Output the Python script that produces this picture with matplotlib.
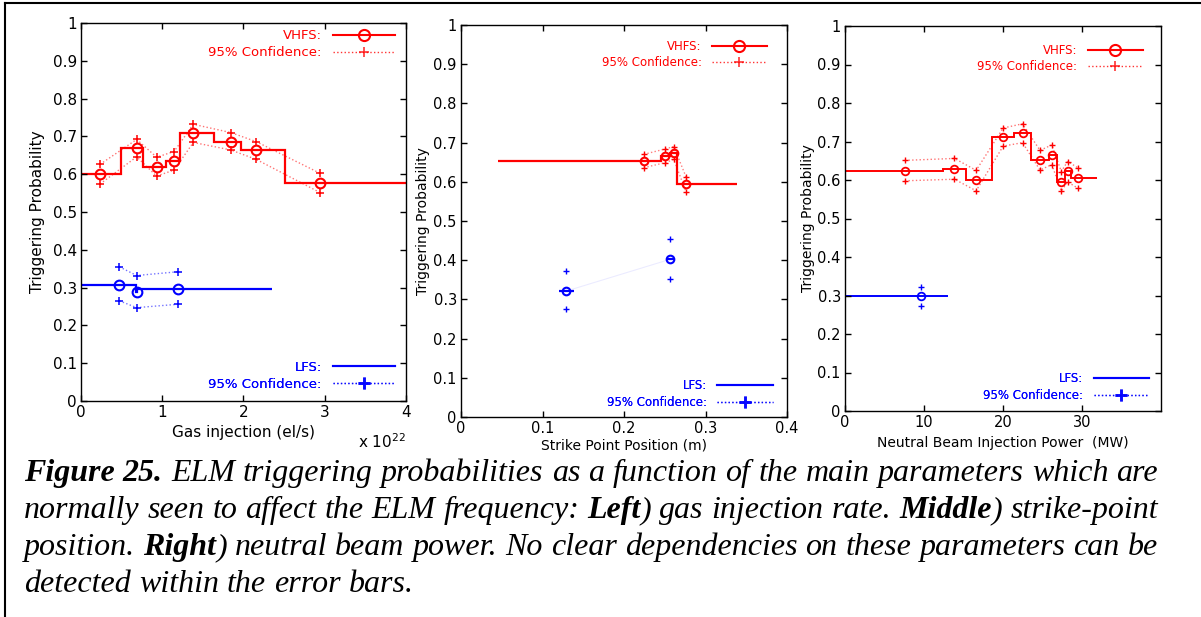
import matplotlib
matplotlib.use('Agg')
import matplotlib.pyplot as plt
from matplotlib.lines import Line2D

# ---------------- data ----------------
# Left panel: gas injection (x in units of 1e22 el/s)
gas_vhfs_x = [0.234, 0.685, 0.931, 1.145, 1.383, 1.846, 2.158, 2.946]
gas_vhfs_p = [0.600, 0.668, 0.620, 0.635, 0.710, 0.686, 0.664, 0.576]
gas_vhfs_hi = [0.626, 0.692, 0.645, 0.660, 0.732, 0.710, 0.686, 0.602]
gas_vhfs_lo = [0.574, 0.646, 0.595, 0.611, 0.684, 0.664, 0.639, 0.551]
gas_vhfs_edges = [0.0, 0.49, 0.76, 1.05, 1.22, 1.64, 1.97, 2.51, 4.0]

gas_lfs_x = [0.472, 0.685, 1.198]
gas_lfs_p = [0.307, 0.289, 0.297]
gas_lfs_hi = [0.355, 0.332, 0.342]
gas_lfs_lo = [0.265, 0.247, 0.256]
gas_lfs_edges = [0.0, 0.68, 0.69, 2.35]

# Middle panel: strike point position (m)
sp_vhfs_x = [0.2243, 0.2509, 0.2611, 0.2762]
sp_vhfs_p = [0.652, 0.666, 0.673, 0.594]
sp_vhfs_hi = [0.670, 0.684, 0.690, 0.612]
sp_vhfs_lo = [0.636, 0.649, 0.657, 0.574]
sp_vhfs_edges = [0.045, 0.245, 0.256, 0.2656, 0.339]

sp_lfs_x = [0.1287, 0.2562]
sp_lfs_p = [0.321, 0.402]
sp_lfs_hi = [0.372, 0.454]
sp_lfs_lo = [0.276, 0.353]
sp_lfs_left = [0.1206, 0.2515]
sp_lfs_right = [0.1387, 0.2613]

# Right panel: neutral beam injection power (MW)
nbi_vhfs_x = [7.57, 13.86, 16.60, 20.02, 22.47, 24.68, 26.18, 27.38, 28.17, 29.55]
nbi_vhfs_p = [0.624, 0.629, 0.599, 0.712, 0.722, 0.652, 0.666, 0.596, 0.623, 0.605]
nbi_vhfs_hi = [0.651, 0.656, 0.625, 0.735, 0.746, 0.677, 0.691, 0.622, 0.648, 0.631]
nbi_vhfs_lo = [0.598, 0.602, 0.572, 0.688, 0.697, 0.626, 0.640, 0.571, 0.595, 0.578]
nbi_vhfs_edges = [0.0, 12.44, 15.31, 18.56, 21.35, 23.55, 25.84, 26.84, 27.84, 28.63, 31.88]

nbi_lfs_x = [9.57]
nbi_lfs_p = [0.298]
nbi_lfs_hi = [0.323]
nbi_lfs_lo = [0.272]
nbi_lfs_edges = [0.0, 12.98]

y_ticks = [0, 0.1, 0.2, 0.3, 0.4, 0.5, 0.6, 0.7, 0.8, 0.9, 1.0]
y_ticklabels = ['0', '0.1', '0.2', '0.3', '0.4', '0.5', '0.6', '0.7', '0.8', '0.9', '1']
gas_ticks = [0, 1, 2, 3, 4]
sp_ticks = [0, 0.1, 0.2, 0.3, 0.4]
sp_ticklabels = ['0', '0.1', '0.2', '0.3', '0.4']
nbi_ticks = [0, 10, 20, 30]

caption_lines = [
    [("Figure 25.", 'b'), (" ELM triggering probabilities as a function of the main parameters which are", 'i')],
    [("normally seen to affect the ELM frequency: ", 'i'), ("Left", 'b'), (") gas injection rate. ", 'i'),
     ("Middle", 'b'), (") strike-point", 'i')],
    [("position. ", 'i'), ("Right", 'b'), (") neutral beam power. No clear dependencies on these parameters can be", 'i')],
    [("detected within the error bars.", 'i')],
]

# ---------------- figure ----------------
W, H = 1201, 617
fig = plt.figure(figsize=(W / 100, H / 100), dpi=100)
plt.rcParams['font.family'] = ['DejaVu Sans']


def ax_rect(x0, y0, x1, y1):
    return [x0 / W, 1 - y1 / H, (x1 - x0) / W, (y1 - y0) / H]


axL = fig.add_axes(ax_rect(81, 23, 406, 401))
axM = fig.add_axes(ax_rect(461, 25, 787, 417))
axR = fig.add_axes(ax_rect(845, 26, 1161, 411))


def style_axes(ax, fs):
    ax.set_ylim(0, 1)
    ax.set_yticks(y_ticks)
    ax.set_yticklabels(y_ticklabels)
    ax.tick_params(direction='in', top=True, right=True, length=4, width=1,
                   labelsize=fs, pad=3, colors='black')
    for s in ax.spines.values():
        s.set_linewidth(1.0)
        s.set_color('black')


def add_legends(ax, fs, vh_anchor, lf_anchor, hl=4.7):
    h1 = Line2D([], [], color='red', lw=1.5, marker='o', mfc='none', mec='red', ms=8, mew=1.5)
    h2 = Line2D([], [], color='red', lw=1, ls=':', marker='+', ms=7, mew=1.2, alpha=0.8)
    leg1 = ax.legend([h1, h2], ['VHFS:', '95% Confidence:'], loc='upper right',
                     bbox_to_anchor=vh_anchor, frameon=False, markerfirst=False,
                     numpoints=1, fontsize=fs, handlelength=hl, handletextpad=0.85,
                     labelspacing=0.3, borderpad=0, borderaxespad=0, labelcolor='red')
    ax.add_artist(leg1)
    h3 = Line2D([], [], color='blue', lw=1.5)
    h4 = Line2D([], [], color='blue', lw=1, ls=':', marker='+', ms=9, mew=2, alpha=0.8)
    leg2 = ax.legend([h3, h4], ['LFS:', '95% Confidence:'], loc='lower right',
                     bbox_to_anchor=lf_anchor, frameon=False, markerfirst=False,
                     numpoints=1, fontsize=fs, handlelength=hl, handletextpad=0.85,
                     labelspacing=0.3, borderpad=0, borderaxespad=0, labelcolor='blue')
    ax.add_artist(leg2)


# ---- Left panel ----
ax = axL
ax.stairs(gas_vhfs_p, gas_vhfs_edges, color='red', lw=1.6, baseline=None)
ax.plot(gas_vhfs_x, gas_vhfs_p, ls='none', marker='o', mfc='none', mec='red', ms=7, mew=1.5)
ax.plot(gas_vhfs_x, gas_vhfs_hi, ls=':', lw=1, color='red', alpha=0.55)
ax.plot(gas_vhfs_x, gas_vhfs_lo, ls=':', lw=1, color='red', alpha=0.55)
ax.plot(gas_vhfs_x, gas_vhfs_hi, ls='none', marker='+', ms=6, mew=1.1, color='red')
ax.plot(gas_vhfs_x, gas_vhfs_lo, ls='none', marker='+', ms=6, mew=1.1, color='red')
ax.stairs(gas_lfs_p, gas_lfs_edges, color='blue', lw=1.6, baseline=None)
ax.plot(gas_lfs_x, gas_lfs_p, ls='none', marker='o', mfc='none', mec='blue', ms=7, mew=1.5)
ax.plot(gas_lfs_x, gas_lfs_hi, ls=':', lw=1, color='blue', alpha=0.55)
ax.plot(gas_lfs_x, gas_lfs_lo, ls=':', lw=1, color='blue', alpha=0.55)
ax.plot(gas_lfs_x, gas_lfs_hi, ls='none', marker='+', ms=6, mew=1.1, color='blue')
ax.plot(gas_lfs_x, gas_lfs_lo, ls='none', marker='+', ms=6, mew=1.1, color='blue')
ax.set_xlim(0, 4)
ax.set_xticks(gas_ticks)
style_axes(ax, 11)
ax.set_xlabel('Gas injection (el/s)', fontsize=11)
ax.xaxis.set_label_coords(0.5, -0.0635)
ax.set_ylabel('Triggering Probability', fontsize=11)
ax.yaxis.set_label_coords(-0.111, 0.5)
ax.text(1.0, -0.124, r'x 10$^{22}$', transform=ax.transAxes, ha='right', va='baseline', fontsize=11)
add_legends(ax, 9.5, (0.966, 0.983), (0.966, 0.027))

# ---- Middle panel ----
ax = axM
ax.stairs(sp_vhfs_p, sp_vhfs_edges, color='red', lw=1.6, baseline=None)
ax.plot(sp_vhfs_x, sp_vhfs_p, ls='none', marker='o', mfc='none', mec='red', ms=5.5, mew=1.5)
ax.plot(sp_vhfs_x, sp_vhfs_hi, ls=':', lw=1, color='red', alpha=0.5)
ax.plot(sp_vhfs_x, sp_vhfs_lo, ls=':', lw=1, color='red', alpha=0.5)
ax.plot(sp_vhfs_x, sp_vhfs_hi, ls='none', marker='+', ms=5, mew=1, color='red')
ax.plot(sp_vhfs_x, sp_vhfs_lo, ls='none', marker='+', ms=5, mew=1, color='red')
ax.plot(sp_lfs_x, sp_lfs_p, ls='-', lw=0.8, color='blue', alpha=0.08)
ax.hlines(sp_lfs_p, sp_lfs_left, sp_lfs_right, colors='blue', lw=1.6)
ax.plot(sp_lfs_x, sp_lfs_p, ls='none', marker='o', mfc='none', mec='blue', ms=5.5, mew=1.5)
ax.plot(sp_lfs_x, sp_lfs_hi, ls='none', marker='+', ms=5, mew=1, color='blue')
ax.plot(sp_lfs_x, sp_lfs_lo, ls='none', marker='+', ms=5, mew=1, color='blue')
ax.set_xlim(0, 0.4)
ax.set_xticks(sp_ticks)
ax.set_xticklabels(sp_ticklabels)
style_axes(ax, 10.5)
ax.set_xlabel('Strike Point Position (m)', fontsize=10)
ax.xaxis.set_label_coords(0.5, -0.0536)
ax.set_ylabel('Triggering Probability', fontsize=10)
ax.yaxis.set_label_coords(-0.095, 0.5)
add_legends(ax, 8.5, (0.939, 0.962), (0.957, 0.021))

# ---- Right panel ----
ax = axR
ax.stairs(nbi_vhfs_p, nbi_vhfs_edges, color='red', lw=1.4, baseline=None)
ax.plot(nbi_vhfs_x, nbi_vhfs_p, ls='none', marker='o', mfc='none', mec='red', ms=5.5, mew=1.3)
ax.plot(nbi_vhfs_x, nbi_vhfs_hi, ls=':', lw=1, color='red', alpha=0.55)
ax.plot(nbi_vhfs_x, nbi_vhfs_lo, ls=':', lw=1, color='red', alpha=0.55)
ax.plot(nbi_vhfs_x, nbi_vhfs_hi, ls='none', marker='+', ms=5, mew=1, color='red')
ax.plot(nbi_vhfs_x, nbi_vhfs_lo, ls='none', marker='+', ms=5, mew=1, color='red')
ax.stairs(nbi_lfs_p, nbi_lfs_edges, color='blue', lw=1.4, baseline=None)
ax.plot(nbi_lfs_x, nbi_lfs_p, ls='none', marker='o', mfc='none', mec='blue', ms=5.5, mew=1.3)
ax.plot(nbi_lfs_x, nbi_lfs_hi, ls='none', marker='+', ms=5, mew=1, color='blue')
ax.plot(nbi_lfs_x, nbi_lfs_lo, ls='none', marker='+', ms=5, mew=1, color='blue')
ax.set_xlim(0, 40)
ax.set_xticks(nbi_ticks)
style_axes(ax, 10.5)
ax.set_xlabel('Neutral Beam Injection Power  (MW)', fontsize=10)
ax.xaxis.set_label_coords(0.5, -0.065)
ax.set_ylabel('Triggering Probability', fontsize=10)
ax.yaxis.set_label_coords(-0.095, 0.5)
add_legends(ax, 8.5, (0.943, 0.954), (0.962, 0.024))

# ---- page frame (top and left rules) ----
fig.add_artist(Line2D([5 / W, 1.0], [1 - 3 / H, 1 - 3 / H], transform=fig.transFigure,
                      color='black', lw=1.5))
fig.add_artist(Line2D([5 / W, 5 / W], [1 - 3 / H, 0.0], transform=fig.transFigure,
                      color='black', lw=1.5))

# ---- justified caption ----
renderer = fig.canvas.get_renderer()
CAP_FS = 23
baselines = [481, 518, 555, 592]
X0, X1 = 24, 1158
space_px = 0.25 * CAP_FS * 100 / 72


def place_line(runs, base_px, justify):
    words, cur = [], []
    for text, st in runs:
        parts = text.split(' ')
        for i, part in enumerate(parts):
            if i > 0 and cur:
                words.append(cur)
                cur = []
            if part:
                cur.append((part, st))
    if cur:
        words.append(cur)
    items = []
    for w in words:
        arts = []
        for txt, st in w:
            t = fig.text(0, 1 - base_px / H, txt, fontsize=CAP_FS, family='Liberation Serif',
                         style='italic', weight='bold' if st == 'b' else 'normal',
                         va='baseline', ha='left')
            arts.append(t)
        items.append(arts)
    widths = [[a.get_window_extent(renderer).width for a in arts] for arts in items]
    total = sum(sum(ws) for ws in widths)
    if justify and len(items) > 1:
        gap = (X1 - X0 - total) / (len(items) - 1)
    else:
        gap = space_px
    x = X0
    for arts, ws in zip(items, widths):
        for a, wd in zip(arts, ws):
            a.set_x(x / W)
            x += wd
        x += gap


for i, (runs, b) in enumerate(zip(caption_lines, baselines)):
    place_line(runs, b, justify=(i < len(caption_lines) - 1))

fig.savefig('out.png', dpi=100)
